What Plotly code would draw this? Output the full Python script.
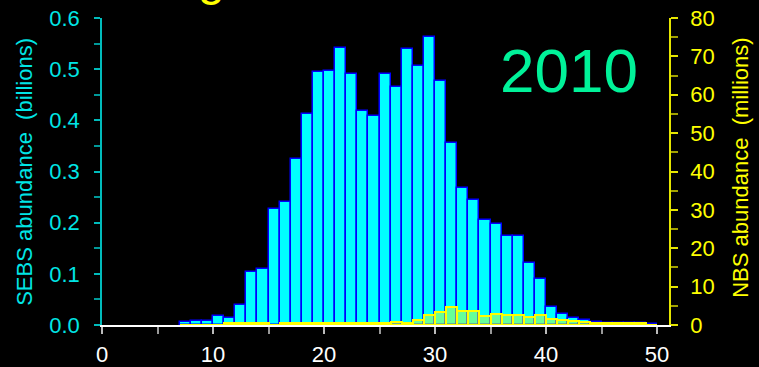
import plotly.graph_objects as go

# Size bins (left edges, width 1)
bins = list(range(7, 50))
# SEBS abundance (billions)
sebs = [0.005, 0.008, 0.008, 0.017, 0.014, 0.039, 0.104, 0.110, 0.227, 0.240,
        0.325, 0.412, 0.495, 0.497, 0.541, 0.490, 0.419, 0.408, 0.491, 0.466,
        0.539, 0.506, 0.562, 0.476, 0.356, 0.267, 0.245, 0.206, 0.198, 0.173,
        0.173, 0.121, 0.090, 0.036, 0.022, 0.013, 0.010, 0.006, 0.004, 0.004,
        0.004, 0.004, 0.002]
# NBS abundance (millions)
nbs = [0.0, 0.0, 0.0, 0.0, 0.4, 0.4, 0.4, 0.4, 0.0, 0.4,
       0.4, 0.4, 0.4, 0.4, 0.4, 0.4, 0.4, 0.5, 0.6, 0.9,
       0.5, 1.4, 2.5, 3.4, 4.7, 3.7, 3.7, 2.3, 2.9, 2.6,
       2.6, 2.0, 2.6, 1.6, 1.35, 1.1, 0.9, 0.6, 0.6, 0.6,
       0.6, 0.6, 0.0]

x_ticks = [0, 10, 20, 30, 40, 50]
x_ticklabels = ["0", "10", "20", "30", "40", "50"]
y_ticks = [0.0, 0.1, 0.2, 0.3, 0.4, 0.5, 0.6]
y_ticklabels = ["0.0", "0.1", "0.2", "0.3", "0.4", "0.5", "0.6"]
y2_ticks = [0, 10, 20, 30, 40, 50, 60, 70, 80]

FONT = "Arial, 'Liberation Sans', sans-serif"
CYAN = "#00E5E5"
YEL = "#FFFF00"

centers = [b + 0.5 for b in bins]

fig = go.Figure()
fig.add_trace(go.Bar(
    x=centers, y=sebs, width=1, yaxis="y",
    marker=dict(color="#00FFFF", line=dict(color="#0000FF", width=1.5)),
    showlegend=False,
))
fig.add_trace(go.Bar(
    x=centers, y=nbs, width=1, yaxis="y2",
    marker=dict(color="rgba(255,255,0,0.4)", line=dict(color=YEL, width=2)),
    showlegend=False,
))

fig.update_layout(
    width=759, height=367,
    paper_bgcolor="black", plot_bgcolor="black",
    margin=dict(l=102, r=90, t=18, b=41.5, autoexpand=False),
    barmode="overlay", bargap=0,
    font=dict(family=FONT),
    xaxis=dict(
        range=[0, 51.08], showgrid=False, zeroline=False,
        showline=True, linecolor="white", linewidth=1.5,
        tickmode="array", tickvals=x_ticks, ticktext=x_ticklabels,
        ticks="outside", ticklen=7, tickcolor="#BBBBBB", tickwidth=1.5,
        tickfont=dict(color="white", size=22, family=FONT),
        ticklabelstandoff=2,
        minor=dict(dtick=5, tick0=5, ticks="outside", ticklen=7,
                   tickcolor="#999999", tickwidth=1.5, showgrid=False),
    ),
    yaxis=dict(
        range=[0, 0.6], showgrid=False, zeroline=False,
        showline=True, linecolor="#00BBBB", linewidth=1.5,
        tickmode="array", tickvals=y_ticks, ticktext=y_ticklabels,
        ticks="outside", ticklen=6, tickcolor="#00BBBB", tickwidth=1.5,
        tickfont=dict(color=CYAN, size=22, family=FONT),
        ticklabelstandoff=10,
        minor=dict(dtick=0.05, tick0=0.05, ticks="outside", ticklen=6,
                   tickcolor="#009999", tickwidth=1.5, showgrid=False),
    ),
    yaxis2=dict(
        range=[0, 80], overlaying="y", side="right", anchor="x",
        showgrid=False, zeroline=False,
        showline=True, linecolor="#E5E500", linewidth=1.5,
        tickmode="array", tickvals=y2_ticks,
        ticks="outside", ticklen=7, tickcolor="#E5E500", tickwidth=1.5,
        tickfont=dict(color=YEL, size=22, family=FONT),
        ticklabelstandoff=8,
        minor=dict(dtick=5, tick0=5, ticks="outside", ticklen=7,
                   tickcolor="#A0A000", tickwidth=1.5, showgrid=False),
    ),
    annotations=[
        dict(text="2010", xref="paper", yref="paper", x=0.823, y=0.83,
             xanchor="center", yanchor="middle", showarrow=False,
             font=dict(color="#00F299", size=62, family=FONT)),
        dict(text="SEBS abundance\u00a0\u00a0(billions)", xref="paper", yref="paper",
             x=-0.137, y=0.5, xanchor="center", yanchor="middle", textangle=-90,
             showarrow=False, font=dict(color=CYAN, size=22, family=FONT)),
        dict(text="NBS abundance\u00a0\u00a0(millions)", xref="paper", yref="paper",
             x=1.127, y=0.512, xanchor="center", yanchor="middle", textangle=-90,
             showarrow=False, font=dict(color=YEL, size=22, family=FONT)),
        dict(text="g", xref="paper", yref="paper", x=0.194, y=1.037,
             xanchor="center", yanchor="bottom", showarrow=False,
             font=dict(color=YEL, size=48, family=FONT)),
    ],
)

fig.write_html(
    "out.html",
    config={"displayModeBar": False},
    post_script="document.body.style.margin='0';document.body.style.background='black';",
)
